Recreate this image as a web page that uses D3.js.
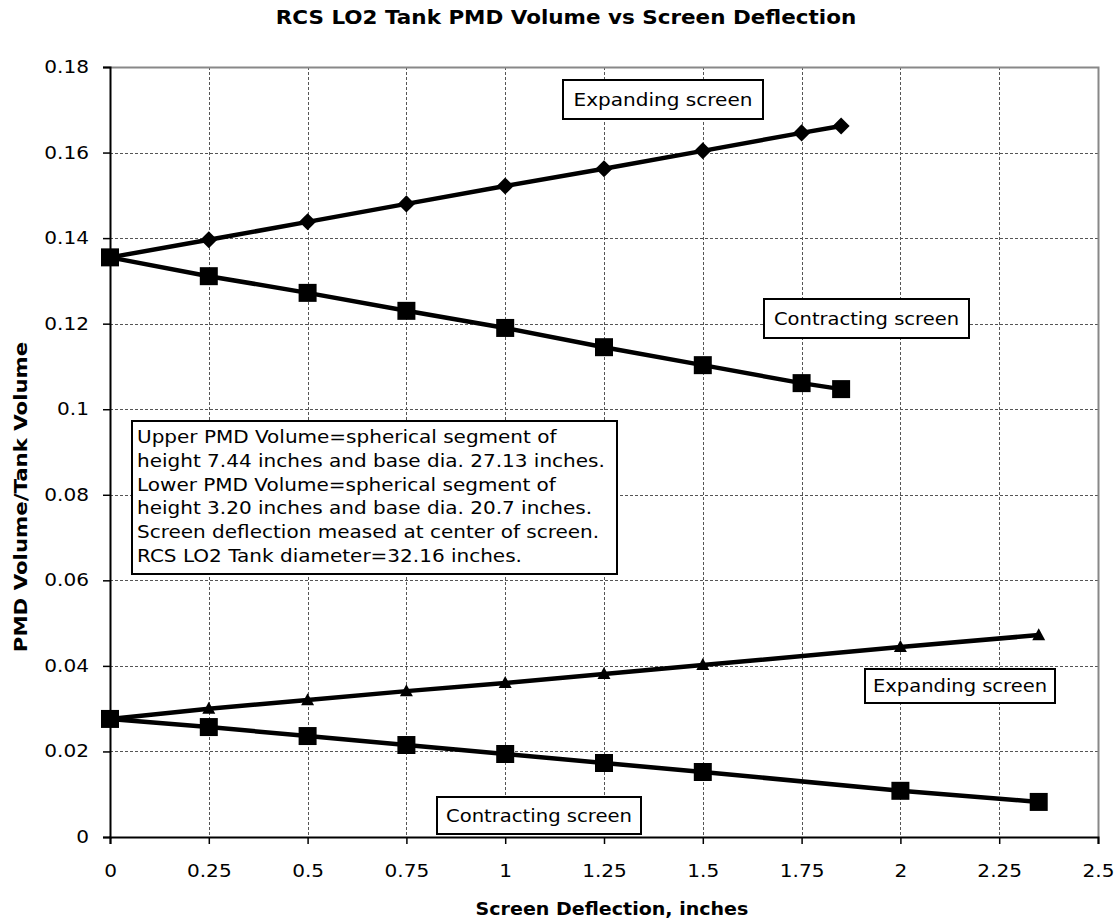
<!DOCTYPE html>
<html>
<head>
<meta charset="utf-8">
<script src="https://cdn.jsdelivr.net/npm/d3@7"></script>
<style>
  html, body { margin: 0; padding: 0; background: #fff; }
  svg { display: block; font-family: "DejaVu Sans", Verdana, sans-serif; }
</style>
</head>
<body>
<svg id="chart" width="1117" height="920"></svg>
<script>
// Screen deflection (inches) for each series
const xUpper = [0, 0.25, 0.5, 0.75, 1, 1.25, 1.5, 1.75, 1.85];
const xLower = [0, 0.25, 0.5, 0.75, 1, 1.25, 1.5, 2, 2.35];

// PMD volume / tank volume
const upperExpanding   = [0.1355, 0.1396, 0.1438, 0.1480, 0.1522, 0.1562, 0.1604, 0.1646, 0.1662];
const upperContracting = [0.1355, 0.1311, 0.1272, 0.1230, 0.1190, 0.1145, 0.1103, 0.1061, 0.1047];
const lowerExpanding   = [0.0276, 0.0300, 0.0320, 0.0341, 0.0360, 0.0381, 0.0402, 0.0444, 0.0472];
const lowerContracting = [0.0276, 0.0257, 0.0236, 0.0215, 0.0194, 0.0173, 0.0152, 0.0108, 0.0082];

const xTicks = [0, 0.25, 0.5, 0.75, 1, 1.25, 1.5, 1.75, 2, 2.25, 2.5];
const yTicks = [0, 0.02, 0.04, 0.06, 0.08, 0.1, 0.12, 0.14, 0.16, 0.18];

const noteLines = [
  "Upper PMD Volume=spherical segment of",
  "height 7.44 inches and base dia. 27.13 inches.",
  "Lower PMD Volume=spherical segment of",
  "height 3.20 inches and base dia. 20.7 inches.",
  "Screen deflection meased at center of screen.",
  "RCS LO2 Tank diameter=32.16 inches."
];

const svg = d3.select("#chart");
const plotL = 110, plotR = 1098, plotT = 67, plotB = 837;
const WIDEN = 1.15; // text is set slightly wide

// widen glyphs horizontally around each text's anchor
function widen(sel, k = WIDEN) {
  sel.each(function () {
    const w = this.getComputedTextLength();
    d3.select(this).attr("textLength", w * k).attr("lengthAdjust", "spacingAndGlyphs");
  });
}

const x = d3.scaleLinear().domain([0, 2.5]).range([plotL, plotR]);
const y = d3.scaleLinear().domain([0, 0.18]).range([plotB, plotT]);

// Title
svg.append("text")
  .attr("x", 566).attr("y", 24)
  .attr("text-anchor", "middle")
  .attr("font-weight", "bold").attr("font-size", 19)
  .text("RCS LO2 Tank PMD Volume vs Screen Deflection")
  .call(widen, 1.13);

// Grid
const grid = svg.append("g").attr("stroke", "#555").attr("stroke-width", 1)
  .attr("stroke-dasharray", "3,2").attr("shape-rendering", "crispEdges");
grid.selectAll("line.v").data(xTicks.slice(1, -1)).join("line")
  .attr("x1", d => Math.round(x(d)) + 0.5).attr("x2", d => Math.round(x(d)) + 0.5)
  .attr("y1", plotT).attr("y2", plotB);
grid.selectAll("line.h").data(yTicks.slice(1, -1)).join("line")
  .attr("y1", d => Math.round(y(d)) + 0.5).attr("y2", d => Math.round(y(d)) + 0.5)
  .attr("x1", plotL).attr("x2", plotR);

// Top and right frame
svg.append("path")
  .attr("d", `M${plotL},${plotT + 0.5}H${plotR + 0.5}V${plotB}`)
  .attr("fill", "none").attr("stroke", "#888").attr("stroke-width", 2);

// Axes
const xAxis = svg.append("g").attr("transform", `translate(0,${plotB})`)
  .call(d3.axisBottom(x).tickValues(xTicks).tickSize(7).tickPadding(21)
    .tickFormat(d => String(d)));
const yAxis = svg.append("g").attr("transform", `translate(${plotL},0)`)
  .call(d3.axisLeft(y).tickValues(yTicks).tickSize(7).tickPadding(14)
    .tickFormat(d => String(d)));
[xAxis, yAxis].forEach(g => {
  g.select(".domain").attr("stroke", "#000").attr("stroke-width", 2);
  g.selectAll(".tick line").attr("stroke", "#000").attr("stroke-width", 1.5);
  g.selectAll(".tick text").attr("font-size", 17).attr("fill", "#000")
    .attr("font-family", "DejaVu Sans, Verdana, sans-serif")
    .call(widen, 1.18);
});

// Axis titles
svg.append("text")
  .attr("x", 612).attr("y", 915)
  .attr("text-anchor", "middle").attr("font-weight", "bold").attr("font-size", 17)
  .text("Screen Deflection, inches")
  .call(widen, 1.12);
svg.append("text")
  .attr("transform", "translate(27,497) rotate(-90)")
  .attr("text-anchor", "middle").attr("font-weight", "bold").attr("font-size", 18.5)
  .text("PMD Volume/Tank Volume")
  .call(widen);

// Marker shapes
const squareDiamond = {
  draw(ctx, size) {
    const r = Math.sqrt(size / 2);
    ctx.moveTo(0, -r); ctx.lineTo(r, 0); ctx.lineTo(0, r); ctx.lineTo(-r, 0); ctx.closePath();
  }
};
const flatTriangle = {
  draw(ctx, size) {
    const h = Math.sqrt(size * 2) * 0.92, w = h * 1.08;
    ctx.moveTo(0, -h * 0.58); ctx.lineTo(w / 2, h * 0.42); ctx.lineTo(-w / 2, h * 0.42); ctx.closePath();
  }
};

// Series
const line = d3.line().x(d => x(d[0])).y(d => y(d[1]));
const series = [
  { xs: xUpper, ys: upperExpanding, marker: squareDiamond, size: 145 },
  { xs: xUpper, ys: upperContracting, marker: d3.symbolSquare, size: 324 },
  { xs: xLower, ys: lowerExpanding, marker: flatTriangle, size: 85 },
  { xs: xLower, ys: lowerContracting, marker: d3.symbolSquare, size: 324 }
];
series.forEach(s => {
  const pts = s.xs.map((v, i) => [v, s.ys[i]]);
  svg.append("path").datum(pts)
    .attr("d", line).attr("fill", "none")
    .attr("stroke", "#000").attr("stroke-width", 4.5);
  svg.append("g").selectAll("path").data(pts).join("path")
    .attr("transform", d => `translate(${x(d[0])},${y(d[1])})`)
    .attr("d", d3.symbol(s.marker, s.size))
    .attr("fill", "#000");
});

// Series labels in boxes
const labels = [
  { text: "Expanding screen", x0: 563, y0: 80, w: 200, h: 39, tw: 179 },
  { text: "Contracting screen", x0: 764, y0: 299, w: 205, h: 39, tw: 185 },
  { text: "Expanding screen", x0: 865, y0: 669, w: 190, h: 34, tw: 174 },
  { text: "Contracting screen", x0: 437, y0: 797, w: 204, h: 37, tw: 186 }
];
labels.forEach(l => {
  svg.append("rect").attr("x", l.x0).attr("y", l.y0).attr("width", l.w).attr("height", l.h)
    .attr("fill", "#fff").attr("stroke", "#000").attr("stroke-width", 2);
  svg.append("text").attr("x", l.x0 + l.w / 2).attr("y", l.y0 + l.h / 2 + 6)
    .attr("text-anchor", "middle").attr("font-size", 17)
    .attr("textLength", l.tw).attr("lengthAdjust", "spacingAndGlyphs")
    .text(l.text);
});

// Note box
const note = svg.append("g");
note.append("rect").attr("x", 132).attr("y", 421).attr("width", 485).attr("height", 153)
  .attr("fill", "#fff").attr("stroke", "#000").attr("stroke-width", 2);
note.selectAll("text").data(noteLines).join("text")
  .attr("x", 137).attr("y", (d, i) => 443 + i * 23.8)
  .attr("font-size", 17.4)
  .text(d => d)
  .call(widen);
</script>
</body>
</html>
